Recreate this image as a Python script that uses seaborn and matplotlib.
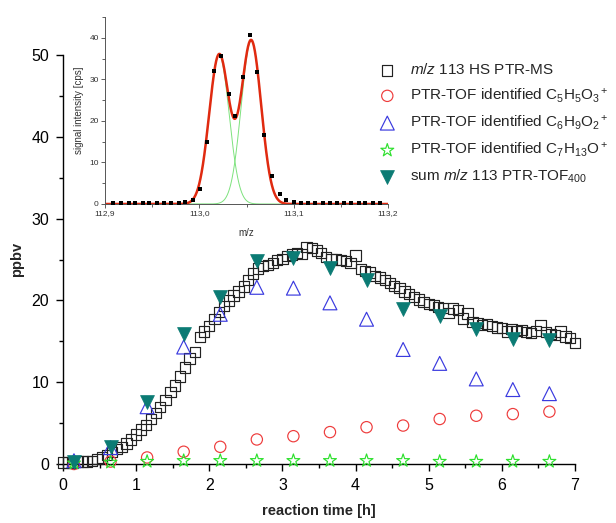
import numpy as np
import pandas as pd
import matplotlib
matplotlib.use("Agg")
import matplotlib.pyplot as plt
import seaborn as sns
from matplotlib.ticker import MultipleLocator, FixedLocator, FixedFormatter

# ---------------- main chart data ----------------
hs_time = [0.00, 0.07, 0.13, 0.20, 0.27, 0.33, 0.40, 0.47, 0.53, 0.60,
           0.67, 0.73, 0.80, 0.87, 0.93, 1.00, 1.07, 1.13, 1.20, 1.27,
           1.33, 1.40, 1.47, 1.53, 1.60, 1.67, 1.73, 1.80, 1.87, 1.93,
           2.00, 2.07, 2.13, 2.20, 2.27, 2.33, 2.40, 2.47, 2.53, 2.60,
           2.67, 2.73, 2.80, 2.87, 2.93, 3.00, 3.07, 3.13, 3.20, 3.27,
           3.33, 3.40, 3.47, 3.53, 3.60, 3.67, 3.73, 3.80, 3.87, 3.93,
           4.00, 4.07, 4.13, 4.20, 4.27, 4.33, 4.40, 4.47, 4.53, 4.60,
           4.67, 4.73, 4.80, 4.87, 4.93, 5.00, 5.07, 5.13, 5.20, 5.27,
           5.33, 5.40, 5.47, 5.53, 5.60, 5.67, 5.73, 5.80, 5.87, 5.93,
           6.00, 6.07, 6.13, 6.20, 6.27, 6.33, 6.40, 6.47, 6.53, 6.60,
           6.67, 6.73, 6.80, 6.87, 6.93, 7.00]
hs_ppbv = [0.2, 0.2, 0.2, 0.3, 0.3, 0.3, 0.4, 0.6, 0.8, 1.1,
           1.5, 1.8, 2.1, 2.5, 3.0, 3.6, 4.2, 4.8, 5.5, 6.2,
           7.0, 7.8, 8.8, 9.6, 10.7, 11.8, 12.9, 13.7, 15.5, 16.2,
           16.9, 17.7, 18.6, 19.3, 20.0, 20.6, 21.1, 21.7, 22.5, 23.3,
           23.9, 24.2, 24.3, 24.6, 24.9, 25.1, 25.4, 25.6, 25.8, 25.7,
           26.5, 26.4, 26.1, 25.8, 25.3, 25.1, 25.0, 24.9, 24.8, 24.6,
           25.5, 23.8, 23.6, 23.4, 23.0, 22.8, 22.5, 22.1, 21.8, 21.5,
           21.1, 20.8, 20.4, 20.1, 19.8, 19.6, 19.4, 19.2, 19.1, 18.5,
           19.0, 18.8, 17.8, 18.4, 17.4, 17.2, 17.0, 17.1, 16.9, 16.7,
           16.6, 16.2, 16.5, 16.3, 16.4, 16.1, 16.0, 16.3, 17.0, 16.1,
           15.9, 15.8, 16.2, 15.6, 15.4, 14.8]

tof_time = [0.15, 0.65, 1.15, 1.65, 2.15, 2.65, 3.15, 3.65, 4.15, 4.65,
            5.15, 5.65, 6.15, 6.65]
c5h5o3 = [0.0, 0.3, 0.8, 1.5, 2.1, 3.0, 3.4, 3.9, 4.5, 4.7, 5.5, 5.9, 6.1, 6.4]
c6h9o2 = [0.4, 2.0, 7.0, 14.3, 18.3, 21.6, 21.5, 19.7, 17.7, 14.0, 12.3, 10.4, 9.1, 8.6]
c7h13o = [0.1, 0.2, 0.3, 0.4, 0.4, 0.4, 0.4, 0.4, 0.4, 0.4, 0.3, 0.3, 0.3, 0.3]
sum113 = [0.3, 2.1, 7.6, 15.9, 20.4, 24.8, 25.2, 24.0, 22.5, 18.9, 18.1, 16.5, 15.3, 15.1]

labels = [r"$m/z$ 113 HS PTR-MS",
          r"PTR-TOF identified C$_5$H$_5$O$_3$$^+$",
          r"PTR-TOF identified C$_6$H$_9$O$_2$$^+$",
          r"PTR-TOF identified C$_7$H$_{13}$O$^+$",
          r"sum $m/z$ 113 PTR-TOF$_{400}$"]

# ---------------- inset data ----------------
inset_mz = [112.909, 112.917, 112.925, 112.932, 112.940, 112.947, 112.955, 112.963,
            112.970, 112.978, 112.985, 112.993, 113.001, 113.008, 113.016, 113.023,
            113.031, 113.038, 113.046, 113.054, 113.061, 113.069, 113.077, 113.085,
            113.092, 113.100, 113.108, 113.115, 113.123, 113.131, 113.138, 113.146,
            113.153, 113.161, 113.169, 113.176, 113.184, 113.192]
inset_cps = [0.2, 0.2, 0.2, 0.2, 0.2, 0.2, 0.2, 0.2,
             0.2, 0.3, 0.5, 1.0, 3.6, 14.9, 32.0, 35.7,
             26.4, 21.1, 30.6, 40.6, 31.7, 16.7, 6.7, 2.5,
             1.0, 0.5, 0.2, 0.2, 0.2, 0.2, 0.2, 0.2,
             0.2, 0.2, 0.2, 0.2, 0.2, 0.2]
peak_centers = [113.021, 113.055]
peak_heights = [35.9, 39.3]
peak_sigmas = [0.01055, 0.01055]
inset_xticks = [112.9, 113.0, 113.1, 113.2]
inset_xticklabels = ["112,9", "113,0", "113,1", "113,2"]

# ---------------- styling ----------------
sns.set_theme(style="ticks")
plt.rcParams["font.family"] = ["Liberation Sans", "DejaVu Sans"]
plt.rcParams["mathtext.fontset"] = "custom"
plt.rcParams["mathtext.rm"] = "Liberation Sans"
plt.rcParams["mathtext.it"] = "Liberation Sans:italic"
plt.rcParams["mathtext.bf"] = "Liberation Sans:bold"

fig = plt.figure(figsize=(6.16, 5.23), dpi=100)
ax = fig.add_axes([63/616, 1-464/523, (575-63)/616, (464-55)/523])

hs_df = pd.DataFrame({"t": hs_time, "v": hs_ppbv})
tof_df = pd.DataFrame({"t": tof_time, "c5": c5h5o3, "c6": c6h9o2,
                       "c7": c7h13o, "sum": sum113})

common = dict(ax=ax, clip_on=False, zorder=3)
sns.scatterplot(data=hs_df, x="t", y="v", marker="s", s=55, facecolor="none",
                edgecolor="#222222", linewidth=0.85, label=labels[0], **common)
sns.scatterplot(data=tof_df, x="t", y="c5", marker="o", s=66, facecolor="none",
                edgecolor="#ee3b3b", linewidth=0.85, label=labels[1], **common)
sns.scatterplot(data=tof_df, x="t", y="c6", marker="^", s=100, facecolor="none",
                edgecolor="#3a3adf", linewidth=0.85, label=labels[2], **common)
sns.scatterplot(data=tof_df, x="t", y="c7", marker="*", s=95, facecolor="none",
                edgecolor="#2ee02e", linewidth=0.85, label=labels[3], **common)
sns.scatterplot(data=tof_df, x="t", y="sum", marker="v", s=100, color="#0b7b74",
                edgecolor="#0b7b74", linewidth=0.5, label=labels[4], **common)

ax.set_xlim(0, 7)
ax.set_ylim(0, 50)
ax.xaxis.set_major_locator(MultipleLocator(1))
ax.xaxis.set_minor_locator(MultipleLocator(0.5))
ax.yaxis.set_major_locator(MultipleLocator(10))
ax.yaxis.set_minor_locator(MultipleLocator(5))
ax.tick_params(axis="both", which="major", direction="out", length=5, width=1,
               labelsize=11.5, color="black", labelcolor="black", pad=5)
ax.tick_params(axis="both", which="minor", direction="out", length=3, width=1,
               color="black")
for side in ["top", "right"]:
    ax.spines[side].set_visible(False)
for side in ["left", "bottom"]:
    ax.spines[side].set_color("black")
    ax.spines[side].set_linewidth(1)
ax.set_facecolor("white")
ax.set_xlabel("reaction time [h]", fontsize=10.5, fontweight="bold", labelpad=8)
ax.set_ylabel("ppbv", fontsize=10.5, fontweight="bold", labelpad=5)

leg = ax.legend(loc="upper left", bbox_to_anchor=(0.594, 0.907),
                bbox_transform=fig.transFigure, frameon=False, fontsize=11,
                handlelength=1.0, handletextpad=1.0, labelspacing=0.58,
                borderpad=0.4)

# ---------------- inset ----------------
ins = fig.add_axes([105/616, 1-204/523, (388-105)/616, (204-17)/523])
ins.set_facecolor("none")
grid = np.linspace(112.9, 113.2, 1200)
comp1 = peak_heights[0] * np.exp(-(grid - peak_centers[0])**2 / (2*peak_sigmas[0]**2))
comp2 = peak_heights[1] * np.exp(-(grid - peak_centers[1])**2 / (2*peak_sigmas[1]**2))
fit_df = pd.DataFrame({"mz": grid, "g1": comp1, "g2": comp2, "fit": comp1 + comp2})
sns.lineplot(data=fit_df, x="mz", y="g1", ax=ins, color="#7de27d", linewidth=0.7)
sns.lineplot(data=fit_df, x="mz", y="g2", ax=ins, color="#7de27d", linewidth=0.7)
sns.lineplot(data=fit_df, x="mz", y="fit", ax=ins, color="#e02a10", linewidth=1.8)
dots_df = pd.DataFrame({"mz": inset_mz, "cps": inset_cps})
sns.scatterplot(data=dots_df, x="mz", y="cps", ax=ins, marker="s", s=5,
                color="black", edgecolor="black", linewidth=0, zorder=4)
ins.set_xlim(112.9, 113.2)
ins.set_ylim(0, 45)
ins.xaxis.set_major_locator(FixedLocator(inset_xticks))
ins.xaxis.set_major_formatter(FixedFormatter(inset_xticklabels))
ins.xaxis.set_minor_locator(MultipleLocator(0.05))
ins.yaxis.set_major_locator(MultipleLocator(10))
ins.yaxis.set_minor_locator(MultipleLocator(5))
ins.tick_params(axis="both", which="major", direction="out", length=3, width=0.6,
                labelsize=6, color="#444444", labelcolor="#333333", pad=1.5)
ins.tick_params(axis="both", which="minor", direction="out", length=2, width=0.6,
                color="#444444")
for side in ["top", "right"]:
    ins.spines[side].set_visible(False)
for side in ["left", "bottom"]:
    ins.spines[side].set_color("#555555")
    ins.spines[side].set_linewidth(0.7)
ins.set_xlabel("m/z", fontsize=7, color="#333333", labelpad=8)
ins.set_ylabel("signal intensity [cps]", fontsize=7, color="#333333", labelpad=4)

fig.savefig("out.png", dpi=100)
